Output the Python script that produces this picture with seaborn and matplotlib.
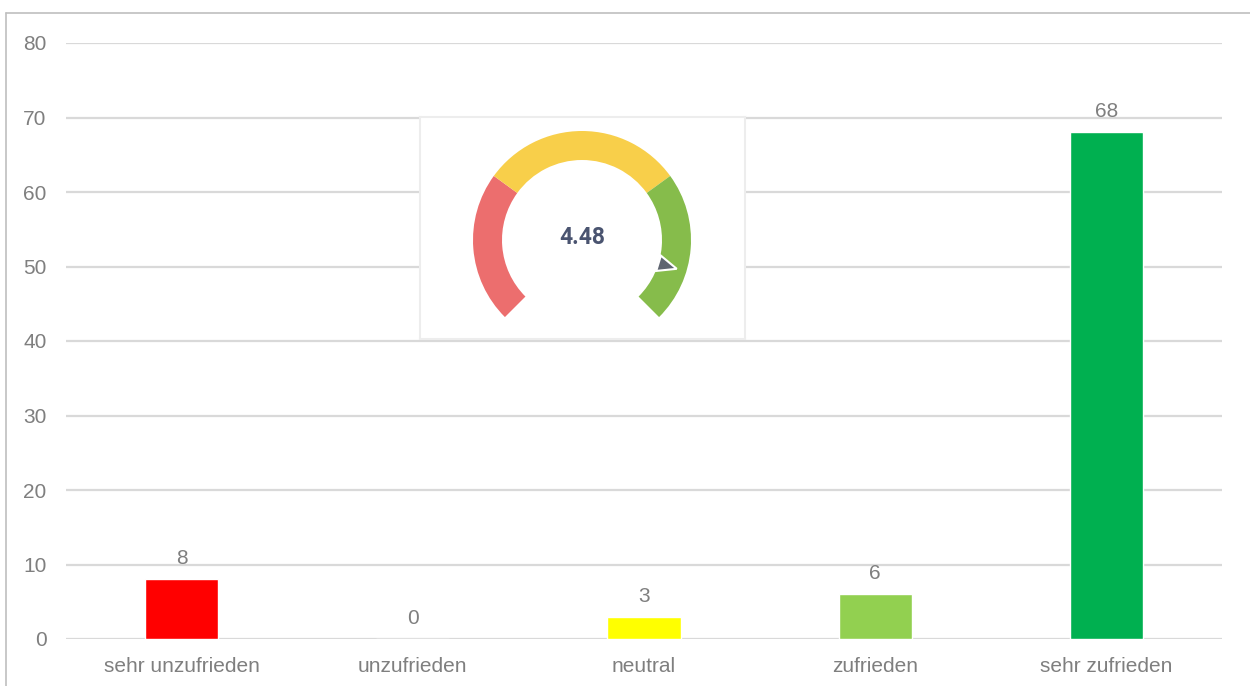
import numpy as np
import pandas as pd
import matplotlib
matplotlib.use('Agg')
import matplotlib.pyplot as plt
from matplotlib.patches import Wedge, Polygon
from matplotlib.lines import Line2D
import seaborn as sns

# data
kategorien = ['sehr unzufrieden', 'unzufrieden', 'neutral', 'zufrieden', 'sehr zufrieden']
anzahl = [8, 0, 3, 6, 68]
farben = ['#FF0000', '#FFC000', '#FFFF00', '#92D050', '#00B050']
y_ticks = [0, 10, 20, 30, 40, 50, 60, 70, 80]

# gauge (scale 0-5)
gauge_wert = 4.48
gauge_grenzen = [0, 1.5, 3.5, 5]
gauge_farben = ['#EC6E6E', '#F8CF4A', '#86BC4B']

sns.set_theme(style='white')
plt.rcParams['font.family'] = ['Liberation Sans', 'DejaVu Sans']

df = pd.DataFrame({'kategorie': kategorien, 'anzahl': anzahl})

fig = plt.figure(figsize=(12.5, 6.86), dpi=100)
ax = fig.add_axes([66 / 1250, 1 - 639 / 686, 1156 / 1250, 596 / 686])
sns.barplot(data=df, x='kategorie', y='anzahl', hue='kategorie',
            palette=farben, legend=False, width=0.316, saturation=1, ax=ax)
for c in ax.containers:
    ax.bar_label(c, padding=8, fontsize=15, color='#7F7F7F')

ax.set_ylim(0, 80)
ax.set_yticks(y_ticks)
ax.set_xlim(-0.5, len(kategorien) - 0.5)
ax.yaxis.grid(True, color='#D9D9D9', linewidth=1.6)
ax.set_axisbelow(True)
sns.despine(ax=ax, left=True, bottom=True)
ax.tick_params(axis='both', length=0, labelsize=15, labelcolor='#7F7F7F')
ax.tick_params(axis='y', pad=14)
ax.tick_params(axis='x', pad=13)
ax.set_xlabel('')
ax.set_ylabel('')

# gauge inset
iax = fig.add_axes([420 / 1250, 1 - 339 / 686, 325 / 1250, 222 / 686])
iax.set_xlim(0, 325)
iax.set_ylim(0, 222)
iax.set_xticks([])
iax.set_yticks([])
iax.set_facecolor('white')
for s in iax.spines.values():
    s.set_color('#EDEDED')
    s.set_linewidth(1.5)

cx, cy, r_out, breite = 162, 99, 109, 29
def winkel(v):
    return 225 - v / 5 * 270

for i, col in enumerate(gauge_farben):
    iax.add_patch(Wedge((cx, cy), r_out, winkel(gauge_grenzen[i + 1]),
                        winkel(gauge_grenzen[i]), width=breite, color=col, lw=0))

a = np.deg2rad(winkel(gauge_wert))
u = np.array([np.cos(a), np.sin(a)])
n = np.array([-np.sin(a), np.cos(a)])
mitte = np.array([cx, cy])
spitze = mitte + u * 99
basis = mitte + u * 80
iax.add_patch(Polygon([spitze, basis + n * 8, basis - n * 8], closed=True,
                      facecolor='#5E6470', edgecolor='white', lw=1.5, zorder=3))
iax.text(cx, cy + 2, f'{gauge_wert:.2f}', ha='center', va='center',
         fontsize=16.5, fontweight='bold', color='#4A5470',
         family=['Roboto', 'DejaVu Sans'])

# outer frame
fig.add_artist(Line2D([6 / 1250, 6 / 1250], [0, 1 - 13 / 686], color='#BFBFBF', lw=1.2))
fig.add_artist(Line2D([6 / 1250, 1], [1 - 13 / 686, 1 - 13 / 686], color='#BFBFBF', lw=1.2))

fig.savefig('out.png', dpi=100)
